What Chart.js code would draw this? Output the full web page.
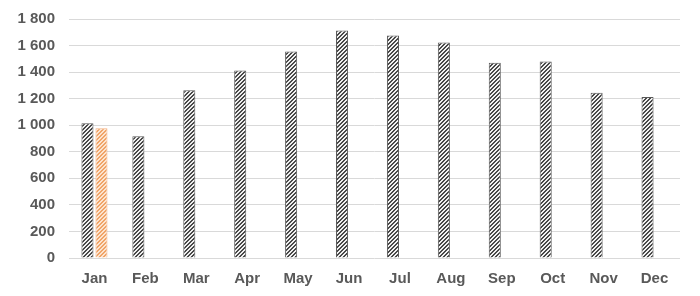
<!DOCTYPE html>
<html><head><meta charset="utf-8">
<script src="https://cdn.jsdelivr.net/npm/chart.js@4"></script>
<style>html,body{margin:0;padding:0;background:#fff}#wrap{width:700px;height:296px}</style>
</head><body><div id="wrap"><canvas id="c"></canvas></div>
<script>
const categories = ["Jan","Feb","Mar","Apr","May","Jun","Jul","Aug","Sep","Oct","Nov","Dec"];
const seriesMain = [1015, 917, 1263, 1413, 1555, 1713, 1675, 1623, 1470, 1480, 1245, 1213];
const seriesHighlight = [978, null, null, null, null, null, null, null, null, null, null, null];
const yTicks = [0,200,400,600,800,1000,1200,1400,1600,1800];

function hatch(fg, bg){
  const c = document.createElement('canvas'); c.width = 4; c.height = 4;
  const x = c.getContext('2d');
  x.fillStyle = bg; x.fillRect(0,0,4,4);
  x.fillStyle = fg;
  for (let i=0;i<4;i++){ x.fillRect(i,3-i,1,1); x.fillRect((i+1)%4,3-i,1,1); }
  return x.createPattern(c,'repeat');
}
const ctx = document.getElementById('c').getContext('2d');
const fmt = v => String(v).replace(/\B(?=(\d{3})+(?!\d))/g, ' ');
const font = { family: 'Liberation Sans, Arial', size: 15, weight: 'bold' };
new Chart(ctx, {
  type: 'bar',
  data: { labels: categories, datasets: [
    { data: seriesMain, backgroundColor: hatch('#484848','#f0f0f0'), borderColor: '#595959', borderWidth: 1 },
    { data: seriesHighlight, backgroundColor: hatch('#f0a468','#fce4d0'), borderColor: '#f4b183', borderWidth: 1 }
  ]},
  options: {
    responsive: true, maintainAspectRatio: false, animation: false,
    layout: { padding: { top: 19, right: 20, bottom: 0, left: 0 } },
    datasets: { bar: { categoryPercentage: 0.55, barPercentage: 0.86 } },
    plugins: { legend: { display: false }, tooltip: { enabled: false } },
    scales: {
      x: { afterFit: s => { s.height = 38; },
           grid: { display: false, drawTicks: false }, border: { display: false },
           ticks: { color: '#595959', font, padding: 12 } },
      y: { min: 0, max: 1800,
           afterFit: s => { s.width = 69; s.paddingTop = 0; s.paddingBottom = 0; },
           afterBuildTicks: s => { s.ticks = yTicks.map(v => ({ value: v })); },
           grid: { color: '#d9d9d9', lineWidth: 1, drawTicks: false }, border: { display: false },
           ticks: { color: '#595959', font, padding: 14, callback: v => fmt(v) } }
    }
  }
});
</script></body></html>
